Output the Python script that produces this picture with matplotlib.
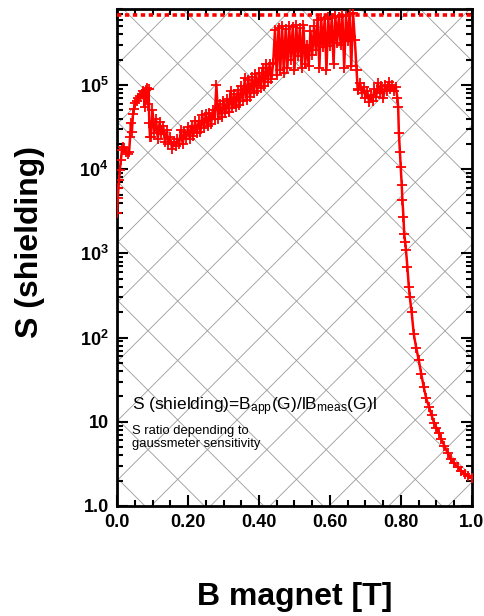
"""
Shielding factor S versus applied magnet field B
"""

import matplotlib
matplotlib.use('Agg')
import matplotlib.pyplot as plt
import numpy as np
from matplotlib.ticker import FixedLocator, FixedFormatter, LogLocator, MultipleLocator, NullFormatter

plt.rcParams['font.family'] = ['Liberation Sans', 'DejaVu Sans']
plt.rcParams['mathtext.fontset'] = 'custom'
plt.rcParams['mathtext.rm'] = 'Liberation Sans'
plt.rcParams['mathtext.it'] = 'Liberation Sans:italic'
plt.rcParams['mathtext.bf'] = 'Liberation Sans:bold'

B_FIELD = [
    0.000, 0.002, 0.004, 0.006, 0.008, 0.011, 0.014, 0.017, 0.021, 0.025,
    0.030, 0.034, 0.037, 0.039, 0.042, 0.045, 0.048, 0.051, 0.055, 0.060,
    0.065, 0.070, 0.074, 0.078, 0.081, 0.084, 0.087, 0.089, 0.091, 0.093,
    0.095, 0.100, 0.105, 0.110, 0.115, 0.120, 0.125, 0.130, 0.135, 0.140,
    0.145, 0.150, 0.155, 0.160, 0.165, 0.170, 0.175, 0.180, 0.185, 0.190,
    0.195, 0.200, 0.205, 0.210, 0.215, 0.220, 0.225, 0.230, 0.235, 0.240,
    0.245, 0.250, 0.255, 0.260, 0.265, 0.270, 0.275, 0.280, 0.285, 0.290,
    0.295, 0.300, 0.305, 0.310, 0.315, 0.320, 0.325, 0.330, 0.335, 0.340,
    0.345, 0.350, 0.355, 0.360, 0.365, 0.370, 0.375, 0.380, 0.385, 0.390,
    0.395, 0.400, 0.405, 0.410, 0.415, 0.420, 0.425, 0.430, 0.435, 0.440,
    0.445, 0.450, 0.455, 0.460, 0.465, 0.470, 0.475, 0.480, 0.485, 0.490,
    0.495, 0.500, 0.505, 0.510, 0.515, 0.520, 0.525, 0.530, 0.535, 0.540,
    0.545, 0.550, 0.555, 0.560, 0.565, 0.570, 0.575, 0.580, 0.585, 0.590,
    0.595, 0.600, 0.605, 0.610, 0.615, 0.620, 0.625, 0.630, 0.635, 0.640,
    0.645, 0.650, 0.655, 0.660, 0.665, 0.670, 0.675, 0.678,
    0.680, 0.685, 0.690, 0.695, 0.700, 0.705, 0.710, 0.715, 0.720, 0.725,
    0.730, 0.735, 0.740, 0.745, 0.750, 0.755, 0.760, 0.765, 0.770, 0.775,
    0.780, 0.785, 0.790,
    0.792, 0.794, 0.797, 0.799, 0.802, 0.804, 0.807, 0.809, 0.812, 0.814,
    0.818, 0.822, 0.825, 0.830, 0.836, 0.843, 0.850, 0.857, 0.864, 0.871,
    0.879, 0.886, 0.893, 0.900, 0.907, 0.914, 0.922, 0.931, 0.940, 0.950,
    0.960, 0.970, 0.980, 0.990, 1.000,
]
S_RATIO = [
    3.0e3, 4.5e3, 6.0e3, 7.5e3, 9.8e3, 1.3e4, 1.7e4, 1.85e4, 1.8e4, 1.6e4,
    1.5e4, 1.6e4, 2.4e4, 3.5e4, 2.8e4, 4.5e4, 5.2e4, 6.1e4, 6.5e4, 7.0e4,
    7.4e4, 7.8e4, 8.5e4, 5.5e4, 8.8e4, 9.2e4, 6.0e4, 9.0e4, 3.5e4, 2.4e4,
    2.4e4, 5.0e4, 2.7e4, 3.9e4, 2.3e4, 3.6e4, 2.6e4, 3.3e4, 2.1e4, 2.9e4,
    2.0e4, 2.4e4, 1.75e4, 2.1e4, 1.9e4, 2.3e4, 2.0e4, 2.9e4, 2.0e4, 2.8e4,
    2.3e4, 3.2e4, 2.3e4, 3.3e4, 2.5e4, 3.7e4, 2.7e4, 3.7e4, 2.8e4, 4.4e4,
    3.1e4, 4.5e4, 3.3e4, 4.7e4, 3.4e4, 5.1e4, 3.9e4, 1.0e5, 4.0e4, 5.9e4,
    4.2e4, 6.5e4, 4.6e4, 6.8e4, 4.8e4, 8.5e4, 5.3e4, 7.9e4, 5.5e4, 8.7e4,
    5.8e4, 9.8e4, 6.4e4, 1.2e5, 6.7e4, 1.15e5, 7.2e4, 1.26e5, 8.1e4, 1.35e5,
    8.5e4, 1.4e5, 9.3e4, 1.6e5, 9.8e4, 1.8e5, 1.1e5, 1.8e5, 1.17e5, 1.85e5,
    4.5e5, 1.3e5, 4.8e5, 1.5e5, 5.0e5, 1.4e5, 4.6e5, 1.6e5, 5.0e5, 2.0e5,
    4.9e5, 1.5e5, 5.1e5, 2.2e5, 4.7e5, 1.6e5, 5.2e5, 1.8e5, 3.0e5, 1.7e5,
    4.4e5, 2.3e5, 5.0e5, 2.6e5, 6.0e5, 1.6e5, 6.2e5, 2.8e5, 6.1e5, 1.5e5,
    6.4e5, 2.9e5, 6.3e5, 1.8e5, 6.6e5, 3.2e5, 6.5e5, 3.0e5, 6.8e5, 1.6e5,
    6.6e5, 3.3e5, 7.0e5, 1.7e5, 7.1e5, 3.4e5, 1.5e5, 8.8e4,
    9.0e4, 1.05e5, 8.0e4, 9.5e4, 7.0e4, 8.5e4, 6.3e4, 7.6e4, 6.5e4, 9.0e4,
    7.2e4, 1.05e5, 8.0e4, 9.8e4, 7.0e4, 1.0e5, 8.5e4, 1.08e5, 9.0e4, 1.0e5,
    8.4e4, 9.6e4, 7.0e4,
    5.5e4, 2.7e4, 1.6e4, 1.07e4, 6.5e3, 4.3e3, 2.7e3, 1.7e3, 1.35e3, 1.1e3,
    6.9e2, 4.0e2, 3.0e2, 2.0e2, 1.1e2, 75, 54, 37, 26, 19,
    15, 12, 9.8, 8.4, 7.4, 6.2, 5.2, 4.3, 3.6, 3.2,
    2.9, 2.6, 2.4, 2.25, 2.15,
]
S_LIMIT = 6.8e5  # upper sensitivity limit of gaussmeter

Y_TICKS = [1, 10, 1e2, 1e3, 1e4, 1e5]
Y_LABELS = ['1.0', '10', r'$\mathbf{10^{2}}$', r'$\mathbf{10^{3}}$',
            r'$\mathbf{10^{4}}$', r'$\mathbf{10^{5}}$']
X_TICKS = [0.0, 0.2, 0.4, 0.6, 0.8, 1.0]
X_LABELS = ['0.0', '0.20', '0.40', '0.60', '0.80', '1.0']


def draw_lattice(ax, w_px, h_px, step=59.4, c_sum=28.0, c_diff=263.0):
    """diagonal background grid in pixel space"""
    kw = dict(color='#9a9a9a', lw=0.6, transform=ax.transAxes, zorder=0)
    px = np.array([0.0, w_px])
    c = c_sum
    while c < w_px + h_px:
        py = c - px
        ax.plot(px / w_px, py / h_px, **kw)
        c += step
    c = c_diff
    while c > -w_px:
        c -= step
    while c < h_px:
        py = c + px
        ax.plot(px / w_px, py / h_px, **kw)
        c += step


fig = plt.figure(figsize=(4.85, 6.16), dpi=100)
ax = fig.add_axes([117 / 485, 1 - 506 / 616, 355 / 485, 497 / 616])

draw_lattice(ax, 355, 497)

ax.plot(B_FIELD, S_RATIO, color='red', lw=1.8, marker='+', ms=7, mew=1.3, zorder=3)
ax.axhline(S_LIMIT, color='red', lw=2.6, ls=(0, (1.2, 1.0)), zorder=3)

ax.set_yscale('log')
ax.set_xlim(0, 1.0)
ax.set_ylim(1.0, 8.0e5)

ax.xaxis.set_major_locator(FixedLocator(X_TICKS))
ax.xaxis.set_major_formatter(FixedFormatter(X_LABELS))
ax.xaxis.set_minor_locator(MultipleLocator(0.05))
ax.yaxis.set_major_locator(FixedLocator(Y_TICKS))
ax.yaxis.set_major_formatter(FixedFormatter(Y_LABELS))
ax.yaxis.set_minor_locator(LogLocator(base=10, subs=np.arange(2, 10), numticks=20))
ax.yaxis.set_minor_formatter(NullFormatter())

ax.tick_params(which='both', direction='in', top=True, right=True, width=1.5)
ax.tick_params(which='major', length=8, labelsize=13, pad=6)
ax.tick_params(which='minor', length=4)
for lab in ax.get_xticklabels() + ax.get_yticklabels():
    lab.set_fontweight('bold')
for sp in ax.spines.values():
    sp.set_linewidth(2)

ax.text(0.042, 0.193, r'S (shielding)=B$_{\mathrm{app}}$(G)/lB$_{\mathrm{meas}}$(G)l',
        transform=ax.transAxes, fontsize=12.5, va='baseline')
ax.text(0.042, 0.162, 'S ratio depending to\ngaussmeter sensitivity',
        transform=ax.transAxes, fontsize=9.4, va='top', linespacing=1.05)

fig.text(295 / 485, 1 - 597 / 616, 'B magnet [T]', fontsize=23, fontweight='bold',
         ha='center', va='center')
fig.text(30 / 485, 1 - 242 / 616, 'S (shielding)', fontsize=23, fontweight='bold',
         ha='center', va='center', rotation=90)

fig.savefig('out.png', dpi=100)
